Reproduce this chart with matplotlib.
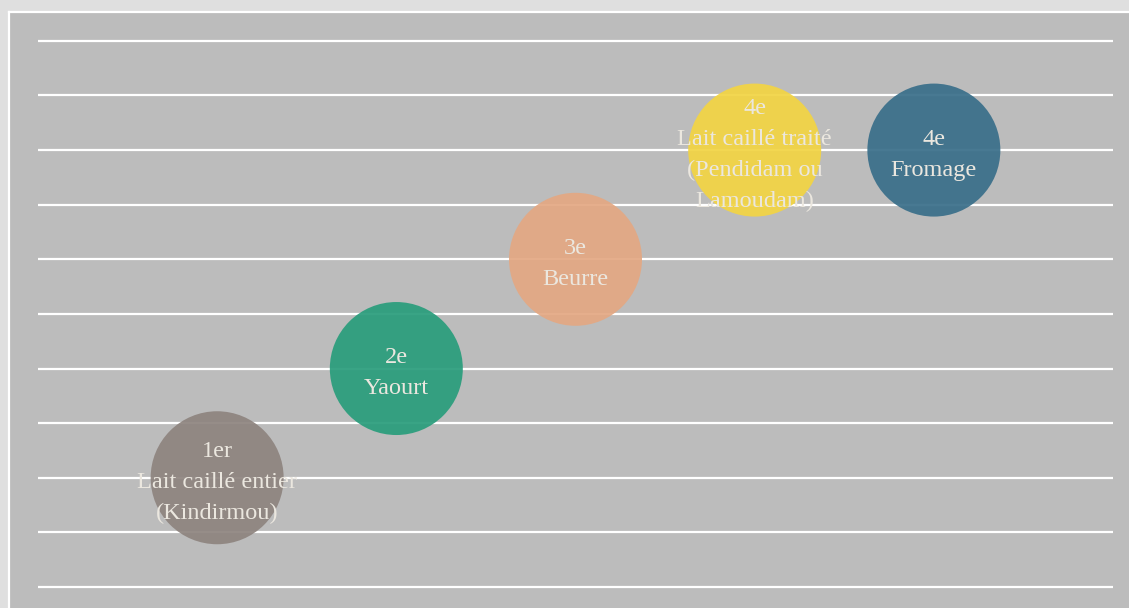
import matplotlib
matplotlib.use("Agg")
import matplotlib.pyplot as plt

# data
rangs = ["1er", "2e", "3e", "4e", "4e"]
produits = ["Lait caillé entier\n(Kindirmou)", "Yaourt", "Beurre",
            "Lait caillé traité\n(Pendidam ou\nLamoudam)", "Fromage"]
x_vals = [1, 2, 3, 4, 5]
y_vals = [2, 4, 6, 8, 8]
couleurs = ["#8e847f", "#2a9d7c", "#e3a883", "#f2d444", "#3a6f8a"]
grid_levels = list(range(0, 11))

W, H = 1129, 608
fig = plt.figure(figsize=(W / 100, H / 100), dpi=100)
fig.patch.set_facecolor("#dfdfdf")

left, bottom = 10 / W, 0
ax = fig.add_axes([left, bottom, 1 - left, (H - 13) / H])
ax.set_facecolor("#bcbcbc")
for s in ax.spines.values():
    s.set_visible(False)
# white border (top and left)
fig.add_artist(plt.Line2D([9 / W, 9 / W], [0, (H - 12) / H], color="white", lw=1.6, transform=fig.transFigure))
fig.add_artist(plt.Line2D([9 / W, 1], [(H - 12) / H, (H - 12) / H], color="white", lw=1.6, transform=fig.transFigure))

ax.set_xlim(-0.156, 6.089)
ax.set_ylim(-0.385, 10.51)
ax.set_xticks([])
ax.set_yticks([])

for g in grid_levels:
    ax.plot([0, 6], [g, g], color="white", lw=1.6, zorder=1, solid_capstyle="butt")

size = (133 * 0.72) ** 2
ax.scatter(x_vals, y_vals, s=size, c=couleurs, alpha=0.93, linewidths=0, zorder=2)

for xv, yv, r, p in zip(x_vals, y_vals, rangs, produits):
    ax.annotate(r + "\n" + p, (xv, yv), xytext=(0, -3.5), textcoords="offset points",
                ha="center", va="center", color="#ebe7df",
                fontsize=17.5, family="Liberation Serif", linespacing=1.62, zorder=3)

fig.savefig("out.png", dpi=100, facecolor=fig.get_facecolor())
